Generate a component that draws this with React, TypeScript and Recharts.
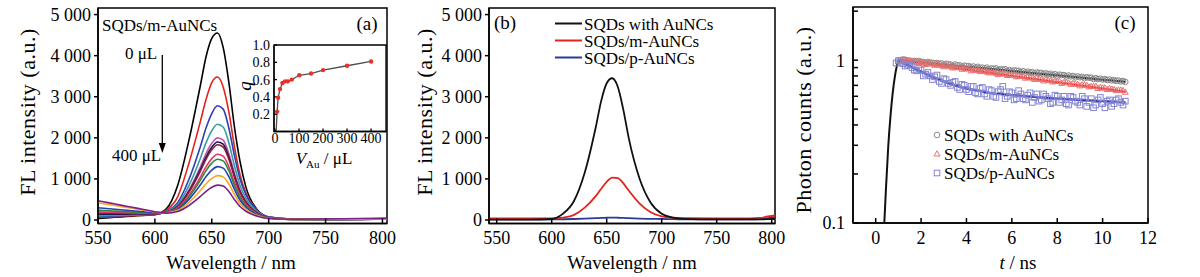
import { ComposedChart, Line, Scatter, XAxis, YAxis, ReferenceArea } from 'recharts';

const FONT = "'Liberation Serif', 'Times New Roman', Times, serif";

// (a) FL spectra of SQDs while m-AuNCs are added, 0 µL -> 400 µL
const wavelengthsA = [550, 560, 570, 580, 590, 600, 610, 620, 630, 640, 645, 650, 655, 660, 665, 670, 675, 680, 690, 700, 720, 750, 780, 804];
const spectrumA01 = [40, 58, 77, 95, 113, 132, 270, 840, 1950, 3280, 3980, 4420, 4550, 4200, 3350, 2250, 1400, 800, 250, 70, 25, 20, 25, 30];
const spectrumA02 = [60, 75, 90, 105, 120, 135, 240, 565, 1390, 2400, 2940, 3345, 3480, 3240, 2630, 1770, 1080, 660, 237, 72, 25, 20, 25, 30];
const spectrumA03 = [80, 92, 103, 115, 127, 138, 216, 422, 991, 1788, 2243, 2592, 2780, 2699, 2238, 1556, 980, 619, 236, 75, 22, 18, 22, 28];
const spectrumA04 = [100, 108, 117, 125, 133, 142, 205, 372, 843, 1505, 1883, 2173, 2330, 2263, 1878, 1309, 827, 525, 203, 66, 20, 15, 20, 25];
const spectrumA05 = [120, 125, 130, 135, 140, 145, 196, 336, 734, 1297, 1619, 1866, 2000, 1942, 1614, 1127, 714, 456, 178, 60, 18, 15, 18, 25];
const spectrumA06 = [140, 142, 143, 145, 147, 148, 194, 325, 701, 1234, 1539, 1773, 1900, 1845, 1534, 1072, 680, 435, 170, 58, 18, 12, 18, 22];
const spectrumA07 = [170, 167, 163, 160, 157, 153, 192, 317, 678, 1190, 1483, 1708, 1830, 1777, 1478, 1033, 657, 420, 165, 56, 15, 12, 16, 22];
const spectrumA08 = [200, 192, 183, 175, 167, 158, 186, 292, 602, 1045, 1299, 1494, 1600, 1554, 1294, 907, 578, 372, 148, 52, 15, 12, 15, 20];
const spectrumA09 = [240, 225, 210, 195, 180, 165, 183, 279, 562, 969, 1203, 1383, 1480, 1438, 1198, 841, 538, 346, 139, 49, 14, 10, 15, 22];
const spectrumA10 = [300, 275, 250, 225, 200, 175, 179, 259, 503, 856, 1059, 1215, 1300, 1263, 1054, 742, 476, 309, 125, 46, 14, 10, 16, 24];
const spectrumA11 = [420, 375, 330, 285, 240, 195, 173, 235, 430, 717, 883, 1011, 1080, 1050, 878, 621, 402, 262, 109, 41, 16, 12, 18, 28];
const spectrumA12 = [470, 417, 363, 310, 257, 203, 168, 209, 354, 573, 699, 797, 850, 827, 694, 495, 323, 214, 92, 37, 20, 25, 35, 45];
const spectraA = [spectrumA01, spectrumA02, spectrumA03, spectrumA04, spectrumA05, spectrumA06, spectrumA07, spectrumA08, spectrumA09, spectrumA10, spectrumA11, spectrumA12];
const colorsA = ['#000000', '#e3241b', '#2d3fb4', '#3a9c9c', '#c653b5', '#1b1b50', '#8c1d3c', '#e8356d', '#2e8b35', '#2340b8', '#f5a623', '#7b2188'];

// (a) inset: q vs V_Au
const insetVolumes = [5, 9, 13, 21, 31, 42, 53, 70, 101, 150, 200, 300, 400];
const insetQ = [0.0, 0.23, 0.39, 0.49, 0.56, 0.58, 0.58, 0.6, 0.65, 0.67, 0.71, 0.76, 0.81];

// (b) spectra of the three samples
const wavelengthsB = [543, 560, 580, 600, 610, 620, 630, 640, 645, 650, 655, 660, 665, 670, 680, 690, 700, 710, 720, 750, 780, 790, 795, 803];
const withAuNCsB = [10, 10, 10, 25, 150, 450, 1150, 2250, 2900, 3330, 3450, 3250, 2700, 2000, 1000, 420, 150, 60, 30, 15, 15, 15, 20, 25];
const mAuNCsB = [40, 40, 40, 40, 60, 120, 300, 580, 760, 930, 1030, 1020, 900, 720, 400, 190, 90, 55, 45, 40, 40, 50, 80, 110];
const pAuNCsB = [15, 15, 15, 15, 18, 25, 35, 45, 50, 55, 58, 55, 50, 45, 35, 28, 24, 20, 18, 15, 15, 20, 40, 70];

// (c) decay curves, [t (ns), counts]; two interleaved sweeps per sample
const withAuNCsDecay: [number, number][] = [[1.0, 1.0], [1.2, 1.01], [1.4, 0.99], [1.6, 0.985], [1.8, 0.98], [2.0, 0.975], [2.2, 0.96], [2.4, 0.965], [2.6, 0.955], [2.8, 0.95], [3.0, 0.94], [3.2, 0.945], [3.4, 0.925], [3.6, 0.93], [3.8, 0.915], [4.0, 0.92], [4.2, 0.905], [4.4, 0.9], [4.6, 0.895], [4.8, 0.89], [5.0, 0.88], [5.2, 0.885], [5.4, 0.87], [5.6, 0.875], [5.8, 0.86], [6.0, 0.855], [6.2, 0.86], [6.4, 0.845], [6.6, 0.84], [6.8, 0.84], [7.0, 0.83], [7.2, 0.835], [7.4, 0.82], [7.6, 0.82], [7.8, 0.81], [8.0, 0.805], [8.2, 0.81], [8.4, 0.795], [8.6, 0.795], [8.8, 0.785], [9.0, 0.785], [9.2, 0.775], [9.4, 0.78], [9.6, 0.765], [9.8, 0.765], [10.0, 0.76], [10.2, 0.755], [10.4, 0.75], [10.6, 0.745], [10.8, 0.74], [11.0, 0.735]];
const withAuNCsDecay2: [number, number][] = [[1.1, 1.0], [1.3, 1.005], [1.5, 0.995], [1.7, 0.99], [1.9, 0.99], [2.1, 0.975], [2.3, 0.975], [2.5, 0.965], [2.7, 0.96], [2.9, 0.955], [3.1, 0.95], [3.3, 0.94], [3.5, 0.94], [3.7, 0.93], [3.9, 0.925], [4.1, 0.92], [4.3, 0.915], [4.5, 0.91], [4.7, 0.9], [4.9, 0.9], [5.1, 0.89], [5.3, 0.89], [5.5, 0.88], [5.7, 0.88], [5.9, 0.87], [6.1, 0.865], [6.3, 0.86], [6.5, 0.855], [6.7, 0.85], [6.9, 0.845], [7.1, 0.84], [7.3, 0.835], [7.5, 0.83], [7.7, 0.825], [7.9, 0.82], [8.1, 0.815], [8.3, 0.81], [8.5, 0.805], [8.7, 0.8], [8.9, 0.795], [9.1, 0.79], [9.3, 0.785], [9.5, 0.78], [9.7, 0.775], [9.9, 0.77], [10.1, 0.765], [10.3, 0.76], [10.5, 0.755], [10.7, 0.75], [10.9, 0.745]];
const mAuNCsDecay: [number, number][] = [[1.2, 1.0], [1.4, 0.995], [1.6, 0.98], [1.8, 0.975], [2.0, 0.965], [2.2, 0.94], [2.4, 0.955], [2.6, 0.93], [2.8, 0.935], [3.0, 0.91], [3.2, 0.92], [3.4, 0.895], [3.6, 0.9], [3.8, 0.88], [4.0, 0.885], [4.2, 0.86], [4.4, 0.87], [4.6, 0.85], [4.8, 0.855], [5.0, 0.835], [5.2, 0.84], [5.4, 0.815], [5.6, 0.83], [5.8, 0.805], [6.0, 0.81], [6.2, 0.79], [6.4, 0.8], [6.6, 0.775], [6.8, 0.785], [7.0, 0.76], [7.2, 0.77], [7.4, 0.745], [7.6, 0.755], [7.8, 0.735], [8.0, 0.74], [8.2, 0.72], [8.4, 0.73], [8.6, 0.71], [8.8, 0.715], [9.0, 0.695], [9.2, 0.705], [9.4, 0.685], [9.6, 0.69], [9.8, 0.67], [10.0, 0.675], [10.2, 0.66], [10.4, 0.665], [10.6, 0.65], [10.8, 0.655], [11.0, 0.635]];
const mAuNCsDecay2: [number, number][] = [[1.3, 1.0], [1.5, 0.985], [1.7, 0.98], [1.9, 0.97], [2.1, 0.965], [2.3, 0.955], [2.5, 0.945], [2.7, 0.94], [2.9, 0.925], [3.1, 0.925], [3.3, 0.91], [3.5, 0.905], [3.7, 0.9], [3.9, 0.885], [4.1, 0.885], [4.3, 0.87], [4.5, 0.865], [4.7, 0.86], [4.9, 0.845], [5.1, 0.845], [5.3, 0.83], [5.5, 0.83], [5.7, 0.82], [5.9, 0.81], [6.1, 0.81], [6.3, 0.795], [6.5, 0.795], [6.7, 0.785], [6.9, 0.775], [7.1, 0.775], [7.3, 0.76], [7.5, 0.76], [7.7, 0.75], [7.9, 0.74], [8.1, 0.74], [8.3, 0.73], [8.5, 0.725], [8.7, 0.72], [8.9, 0.71], [9.1, 0.705], [9.3, 0.7], [9.5, 0.69], [9.7, 0.69], [9.9, 0.68], [10.1, 0.675], [10.3, 0.67], [10.5, 0.66], [10.7, 0.655], [10.9, 0.65]];
const pAuNCsDecay: [number, number][] = [[0.9, 0.96], [1.0, 0.99], [1.2, 0.95], [1.4, 0.93], [1.6, 0.9], [1.8, 0.86], [2.0, 0.87], [2.2, 0.82], [2.4, 0.8], [2.6, 0.79], [2.8, 0.74], [3.0, 0.77], [3.2, 0.72], [3.4, 0.73], [3.6, 0.68], [3.8, 0.71], [4.0, 0.66], [4.2, 0.69], [4.4, 0.63], [4.6, 0.67], [4.8, 0.62], [5.0, 0.66], [5.2, 0.6], [5.4, 0.64], [5.6, 0.69], [5.8, 0.6], [6.0, 0.63], [6.2, 0.58], [6.4, 0.62], [6.6, 0.57], [6.8, 0.63], [7.0, 0.59], [7.2, 0.56], [7.4, 0.62], [7.6, 0.58], [7.8, 0.55], [8.0, 0.6], [8.2, 0.57], [8.4, 0.54], [8.6, 0.6], [8.8, 0.56], [9.0, 0.53], [9.2, 0.58], [9.4, 0.55], [9.6, 0.51], [9.8, 0.57], [10.0, 0.54], [10.2, 0.56], [10.4, 0.52], [10.6, 0.57], [10.8, 0.55], [11.0, 0.56]];
const pAuNCsDecay2: [number, number][] = [[1.1, 0.97], [1.3, 0.92], [1.5, 0.94], [1.7, 0.87], [1.9, 0.89], [2.1, 0.8], [2.3, 0.84], [2.5, 0.76], [2.7, 0.81], [2.9, 0.72], [3.1, 0.76], [3.3, 0.7], [3.5, 0.74], [3.7, 0.66], [3.9, 0.7], [4.1, 0.64], [4.3, 0.69], [4.5, 0.62], [4.7, 0.68], [4.9, 0.6], [5.1, 0.65], [5.3, 0.59], [5.5, 0.66], [5.7, 0.58], [5.9, 0.64], [6.1, 0.57], [6.3, 0.65], [6.5, 0.58], [6.7, 0.61], [6.9, 0.55], [7.1, 0.62], [7.3, 0.57], [7.5, 0.6], [7.7, 0.54], [7.9, 0.61], [8.1, 0.55], [8.3, 0.6], [8.5, 0.53], [8.7, 0.59], [8.9, 0.55], [9.1, 0.6], [9.3, 0.52], [9.5, 0.58], [9.7, 0.53], [9.9, 0.59], [10.1, 0.51], [10.3, 0.57], [10.5, 0.54], [10.7, 0.58], [10.9, 0.53]];
// fitted curves (black one includes the instrument rise)
const withAuNCsFit: [number, number][] = [[0.38, 0.1], [0.45, 0.16], [0.55, 0.29], [0.65, 0.45], [0.75, 0.63], [0.85, 0.8], [0.95, 0.94], [1.05, 1.0], [2, 0.97], [3, 0.941], [4, 0.912], [5, 0.885], [6, 0.858], [7, 0.832], [8, 0.807], [9, 0.783], [10, 0.759], [11, 0.736]];
const mAuNCsFit: [number, number][] = [[1.1, 1.0], [2, 0.956], [3, 0.915], [4, 0.875], [5, 0.837], [6, 0.8], [7, 0.765], [8, 0.732], [9, 0.7], [10, 0.669], [11, 0.64]];
const pAuNCsFit: [number, number][] = [[0.95, 1.0], [1.5, 0.92], [2, 0.85], [2.5, 0.79], [3, 0.74], [3.5, 0.7], [4, 0.67], [4.5, 0.65], [5, 0.63], [6, 0.61], [7, 0.595], [8, 0.58], [9, 0.57], [10, 0.56], [11, 0.55]];

const tickStyle = { fill: '#000', fontSize: 18, fontFamily: FONT };
const smallTick = { fill: '#000', fontSize: 14, fontFamily: FONT };
const labelStyle = { fontFamily: FONT, fill: '#000' };
const fmtThousands = (v: number) => (v === 0 ? '0' : `${v / 1000} 000`);
const toPoints = (pairs: [number, number][]) => pairs.map(([t, v]) => ({ t, v }));

function PanelA() {
    const rows = wavelengthsA.map((wl, i) => {
        const row: Record<string, number> = { wl };
        spectraA.forEach((s, k) => {
            row[`s${k}`] = s[i];
        });
        return row;
    });

    return (
        <ComposedChart width={400} height={277} data={rows} margin={{ top: 8, right: 13, bottom: 0, left: 0 }}>
            <XAxis dataKey="wl" type="number" domain={[550, 804]} allowDataOverflow ticks={[550, 600, 650, 700, 750, 800]} interval={0} height={53.5} tickSize={-5} tickMargin={13} tick={tickStyle} stroke="#000" strokeWidth={1.5} />
            <YAxis type="number" domain={[-85, 5160]} allowDataOverflow ticks={[0, 1000, 2000, 3000, 4000, 5000]} interval={0} width={98} tickSize={4} tickMargin={3} tickFormatter={fmtThousands} tick={tickStyle} stroke="#000" strokeWidth={1.5} />
            {spectraA.map((_, k) => (
                <Line key={k} dataKey={`s${k}`} type="monotone" stroke={colorsA[k]} strokeWidth={1.6} dot={false} isAnimationActive={false} />
            ))}
            <ReferenceArea x1={550} x2={804} y1={-85} y2={5160} fill="none" stroke="#000" strokeWidth={1.5} />
            <text x={35} y={112} transform="rotate(-90 35 112)" textAnchor="middle" fontSize={22} letterSpacing={0.5} style={labelStyle}>FL intensity (a.u.)</text>
            <text x={231} y={269} textAnchor="middle" fontSize={19} style={labelStyle}>Wavelength / nm</text>
            <text x={102} y={31} fontSize={17} style={labelStyle}>SQDs/m-AuNCs</text>
            <text x={367} y={30} textAnchor="middle" fontSize={19} style={labelStyle}>(a)</text>
            <text x={125} y={59} fontSize={17} style={labelStyle}>0 μL</text>
            <text x={112} y={161} fontSize={17} style={labelStyle}>400 μL</text>
            <line x1={162.3} y1={55} x2={162.3} y2={146} stroke="#000" strokeWidth={1.3} />
            <path d="M158.8,143 L165.8,143 L162.3,153 Z" fill="#000" />
        </ComposedChart>
    );
}

function InsetA() {
    const rows = insetVolumes.map((v, i) => ({ v, q: insetQ[i] }));
    const renderDot = (p: any) =>
        p.index === 0 ? (
            <g key={`d-${p.index}`} />
        ) : (
            <circle key={`d-${p.index}`} cx={p.cx} cy={p.cy} r={2.2} fill="#e8302a" />
        );

    return (
        <ComposedChart width={170} height={135} data={rows} margin={{ top: 10, right: 4, bottom: 0, left: 0 }}>
            <XAxis dataKey="v" type="number" domain={[-4, 462]} allowDataOverflow ticks={[0, 100, 200, 300, 400]} interval={0} height={38.5} tickSize={-3} tickMargin={5} tick={smallTick} stroke="#000" strokeWidth={1.3} />
            <YAxis type="number" domain={[0, 1]} allowDataOverflow ticks={[0.2, 0.4, 0.6, 0.8, 1.0]} interval={0} width={54} tickSize={-3} tickMargin={7} tickFormatter={(v: number) => v.toFixed(1)} tick={smallTick} stroke="#000" strokeWidth={1.3} />
            <Line dataKey="q" type="linear" stroke="#505050" strokeWidth={1.3} dot={renderDot} isAnimationActive={false} />
            <ReferenceArea x1={-4} x2={462} y1={0} y2={1} fill="none" stroke="#000" strokeWidth={1.3} />
            <text x={31} y={51} transform="rotate(-90 31 51)" textAnchor="middle" fontSize={19} fontStyle="italic" style={labelStyle}>q</text>
            <text x={104} y={129} textAnchor="middle" fontSize={17} style={labelStyle}>
                <tspan fontStyle="italic">V</tspan>
                <tspan fontSize={11} dy={4}>Au</tspan>
                <tspan dy={-4}> / μL</tspan>
            </text>
        </ComposedChart>
    );
}

function PanelB() {
    const rows = wavelengthsB.map((wl, i) => ({ wl, withAu: withAuNCsB[i], mAu: mAuNCsB[i], pAu: pAuNCsB[i] }));
    const legend = [
        { label: 'SQDs with AuNCs', color: '#111111' },
        { label: 'SQDs/m-AuNCs', color: '#e3241b' },
        { label: 'SQDs/p-AuNCs', color: '#2b3a9a' },
    ];

    return (
        <ComposedChart width={400} height={277} data={rows} margin={{ top: 8, right: 25, bottom: 0, left: 0 }}>
            <XAxis dataKey="wl" type="number" domain={[543, 803]} allowDataOverflow ticks={[550, 600, 650, 700, 750, 800]} interval={0} height={53.5} tickSize={-5} tickMargin={13} tick={tickStyle} stroke="#000" strokeWidth={1.5} />
            <YAxis type="number" domain={[-85, 5160]} allowDataOverflow ticks={[0, 1000, 2000, 3000, 4000, 5000]} interval={0} width={89} tickSize={4} tickMargin={3} tickFormatter={fmtThousands} tick={tickStyle} stroke="#000" strokeWidth={1.5} />
            <Line dataKey="pAu" type="monotone" stroke="#2b3a9a" strokeWidth={1.8} dot={false} isAnimationActive={false} />
            <Line dataKey="mAu" type="monotone" stroke="#e3241b" strokeWidth={1.8} dot={false} isAnimationActive={false} />
            <Line dataKey="withAu" type="monotone" stroke="#111111" strokeWidth={1.8} dot={false} isAnimationActive={false} />
            <ReferenceArea x1={543} x2={803} y1={-85} y2={5160} fill="none" stroke="#000" strokeWidth={1.5} />
            <text x={32} y={112} transform="rotate(-90 32 112)" textAnchor="middle" fontSize={22} letterSpacing={0.5} style={labelStyle}>FL intensity (a.u.)</text>
            <text x={232} y={269} textAnchor="middle" fontSize={19} style={labelStyle}>Wavelength / nm</text>
            <text x={105} y={29} textAnchor="middle" fontSize={19} style={labelStyle}>(b)</text>
            {legend.map((item, i) => (
                <g key={item.label}>
                    <line x1={155} x2={182} y1={23.5 + i * 17} y2={23.5 + i * 17} stroke={item.color} strokeWidth={2} />
                    <text x={184} y={29.5 + i * 17} fontSize={17} style={labelStyle}>{item.label}</text>
                </g>
            ))}
        </ComposedChart>
    );
}

const circleShape = (p: any) => <circle cx={p.cx} cy={p.cy} r={2.8} fill="none" stroke="#8a8a8a" strokeWidth={1} />;
const triangleShape = (p: any) => (
    <path d={`M${p.cx},${p.cy - 3.2} L${p.cx + 3},${p.cy + 2} L${p.cx - 3},${p.cy + 2} Z`} fill="none" stroke="#ee7070" strokeWidth={1} />
);
const squareShape = (p: any) => (
    <rect x={p.cx - 2.8} y={p.cy - 2.8} width={5.6} height={5.6} fill="none" stroke="#8484d4" strokeWidth={1} />
);

function PanelC() {
    const yTicks = [0.1, 0.2, 0.3, 0.4, 0.5, 0.6, 0.7, 0.8, 0.9, 1, 2];
    const fmtLog = (v: number) => (v === 0.1 ? '0.1' : v === 1 ? '1' : '');

    return (
        <ComposedChart width={420} height={277} margin={{ top: 7, right: 52, bottom: 0, left: 0 }}>
            <XAxis dataKey="t" type="number" domain={[-1, 12]} allowDataOverflow ticks={[0, 2, 4, 6, 8, 10, 12]} interval={0} height={54} tickSize={-5} tickMargin={13} tick={tickStyle} stroke="#000" strokeWidth={1.5} />
            <YAxis dataKey="v" type="number" scale="log" domain={[0.1, 2.12]} allowDataOverflow ticks={yTicks} interval={0} width={73} tickSize={-5} tickMargin={13} tickFormatter={fmtLog} tick={tickStyle} stroke="#000" strokeWidth={1.5} />
            <Scatter data={toPoints([...withAuNCsDecay, ...withAuNCsDecay2])} dataKey="v" shape={circleShape} isAnimationActive={false} />
            <Scatter data={toPoints([...mAuNCsDecay, ...mAuNCsDecay2])} dataKey="v" shape={triangleShape} isAnimationActive={false} />
            <Scatter data={toPoints([...pAuNCsDecay, ...pAuNCsDecay2])} dataKey="v" shape={squareShape} isAnimationActive={false} />
            <Line data={toPoints(withAuNCsFit)} dataKey="v" type="monotone" stroke="#111111" strokeWidth={2} dot={false} isAnimationActive={false} />
            <Line data={toPoints(mAuNCsFit)} dataKey="v" type="monotone" stroke="#e3241b" strokeWidth={2} dot={false} isAnimationActive={false} />
            <Line data={toPoints(pAuNCsFit)} dataKey="v" type="monotone" stroke="#2a36a0" strokeWidth={2.4} dot={false} isAnimationActive={false} />
            <ReferenceArea x1={-1} x2={12} y1={0.1} y2={2.12} fill="none" stroke="#000" strokeWidth={1.5} />
            <text x={30.5} y={120} transform="rotate(-90 30.5 120)" textAnchor="middle" fontSize={22} letterSpacing={0.5} style={labelStyle}>Photon counts (a.u.)</text>
            <text x={238} y={269} textAnchor="middle" fontSize={19} style={labelStyle}>
                <tspan fontStyle="italic">t</tspan> / ns
            </text>
            <text x={345} y={29} textAnchor="middle" fontSize={19} style={labelStyle}>(c)</text>
            {circleShape({ cx: 157, cy: 135 })}
            {triangleShape({ cx: 157, cy: 154 })}
            {squareShape({ cx: 157, cy: 173 })}
            <text x={164} y={141} fontSize={17} style={labelStyle}>SQDs with AuNCs</text>
            <text x={164} y={160} fontSize={17} style={labelStyle}>SQDs/m-AuNCs</text>
            <text x={164} y={179} fontSize={17} style={labelStyle}>SQDs/p-AuNCs</text>
        </ComposedChart>
    );
}

export default function App() {
    return (
        <div style={{ position: 'absolute', left: 0, top: 0, width: 1200, height: 277, background: '#fff', fontFamily: FONT }}>
            <div style={{ position: 'absolute', left: 0, top: 0 }}>
                <PanelA />
            </div>
            <div style={{ position: 'absolute', left: 220, top: 35 }}>
                <InsetA />
            </div>
            <div style={{ position: 'absolute', left: 400, top: 0 }}>
                <PanelB />
            </div>
            <div style={{ position: 'absolute', left: 780, top: 0 }}>
                <PanelC />
            </div>
        </div>
    );
}
